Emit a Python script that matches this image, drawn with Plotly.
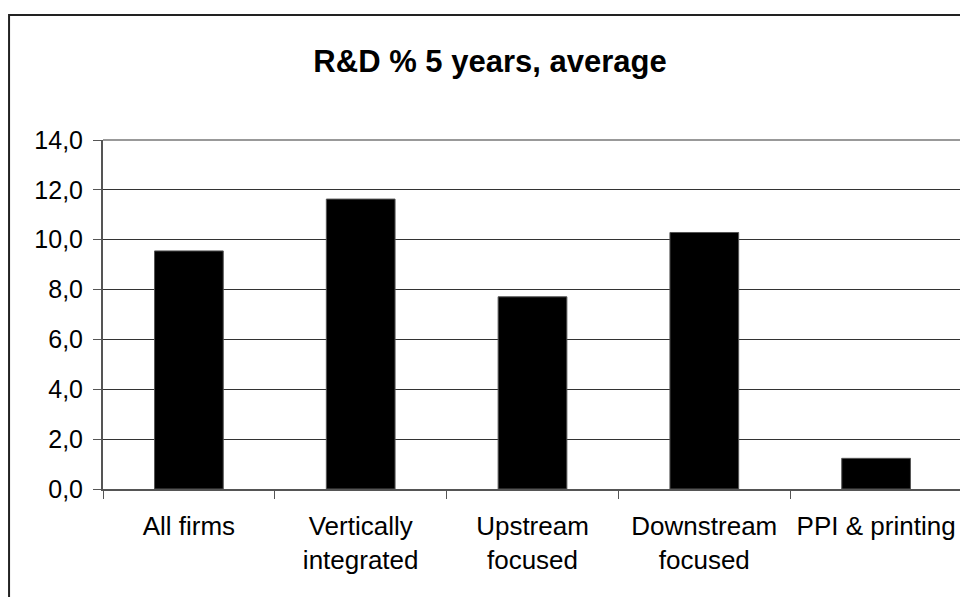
import plotly.graph_objects as go

categories = ["All firms", "Vertically<br>integrated", "Upstream<br>focused", "Downstream<br>focused", "PPI & printing"]
values = [9.55, 11.63, 7.71, 10.29, 1.23]
y_ticks = [0, 2, 4, 6, 8, 10, 12, 14]
title_text = "R&D % 5 years, average"

FONT = "Liberation Sans, Arial, sans-serif"

fig = go.Figure(go.Bar(
    x=categories, y=values,
    marker=dict(color="black", line=dict(color="#555555", width=1)),
))

OFF = 8  # default page body margin
W, H = 968 - OFF, 597 - OFF
L, R, T, B = 103 - OFF, 968 - 962.5, 140 - OFF, 597 - 489
pw = W - L - R
ph = H - T - B

def px_x(x):
    return (x - OFF - L) / pw

def px_y(y):
    return (H - B - (y - OFF)) / ph

fig.update_layout(
    width=W, height=H,
    margin=dict(l=L, r=R, t=T, b=B, autoexpand=False),
    paper_bgcolor="white", plot_bgcolor="white",
    separators=", ",
    bargap=0.6,
    showlegend=False,
    font=dict(family=FONT, color="black", size=25),
    title=dict(text="<b>" + title_text + "</b>", x=(490 - OFF) / W, xref="container", xanchor="center",
               y=1 - (61 - OFF) / H, yref="container", yanchor="middle",
               font=dict(family=FONT, size=31, color="black")),
    xaxis=dict(
        type="category", tickson="boundaries", ticks="outside", ticklen=8, tickcolor="#555555",
        showline=True, linecolor="#555555", linewidth=2, showgrid=False,
        tickfont=dict(family=FONT, size=26, color="black"), ticklabelstandoff=13,
    ),
    yaxis=dict(
        range=[0, 14], tickvals=y_ticks, tickformat=".1f", ticks="outside", ticklen=8,
        tickcolor="#555555", showline=True, linecolor="#555555", linewidth=2,
        showgrid=True, gridcolor="#333333", gridwidth=1, zeroline=False,
        tickfont=dict(family=FONT, size=25, color="black"), ticklabelstandoff=5,
    ),
    shapes=[
        dict(type="path", xref="paper", yref="paper", path="M 0 1 L 1 1 L 1 0",
             line=dict(color="#999999", width=2), layer="above"),
        dict(type="rect", xref="paper", yref="paper",
             x0=px_x(9), x1=px_x(990), y0=px_y(640), y1=px_y(15),
             line=dict(color="#222222", width=2), fillcolor="rgba(0,0,0,0)", layer="above"),
    ],
)

fig.write_html("out.html")
